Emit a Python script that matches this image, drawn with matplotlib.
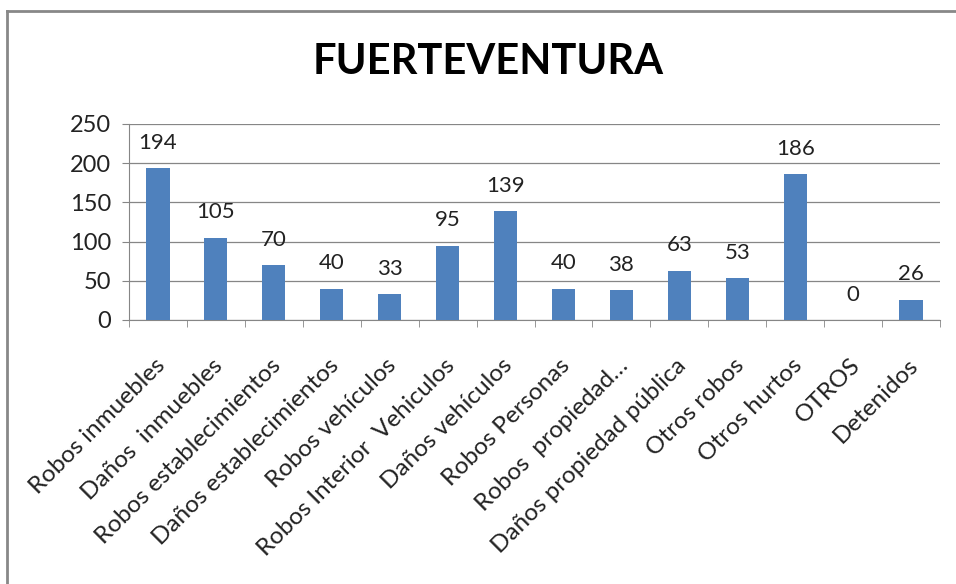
import numpy as np
import matplotlib.pyplot as plt
from matplotlib.lines import Line2D
from matplotlib.transforms import ScaledTranslation

categories = ['Robos inmuebles', 'Daños  inmuebles', 'Robos establecimientos',
              'Daños establecimientos', 'Robos vehículos', 'Robos Interior  Vehiculos',
              'Daños vehículos', 'Robos Personas', 'Robos  propiedad…',
              'Daños propiedad pública', 'Otros robos', 'Otros hurtos', 'OTROS', 'Detenidos']
values = [194, 105, 70, 40, 33, 95, 139, 40, 38, 63, 53, 186, 0, 26]
yticks = [0, 50, 100, 150, 200, 250]

plt.rcParams['font.family'] = ['Lato', 'DejaVu Sans']

fig = plt.figure(figsize=(9.56, 5.84), dpi=100)
W, H = 956, 584
ax = fig.add_axes([129 / W, 1 - 320 / H, (940 - 129) / W, (320 - 124) / H])

x = np.arange(len(categories))
bars = ax.bar(x, values, width=0.4, color='#4F81BD', zorder=3)

for xi, v in zip(x, values):
    ax.annotate(str(v), (xi, v), xytext=(0, 11), textcoords='offset points',
                ha='center', va='bottom', fontsize=16, color='#222222')

ax.set_xlim(-0.5, len(categories) - 0.5)
ax.set_ylim(0, 250)
ax.set_yticks(yticks)
ax.tick_params(axis='y', labelsize=17, length=5, color='#868686', pad=8, labelcolor='#222222')
ax.yaxis.grid(True, color='#868686', linewidth=0.9, zorder=0)

ax.set_xticks(x)
ax.set_xticklabels(categories, rotation=45, ha='right', rotation_mode='anchor',
                   fontsize=17.5, color='#222222')
ax.set_xticks(np.arange(len(categories) + 1) - 0.5, minor=True)
ax.tick_params(axis='x', which='major', length=0, pad=25)
ax.tick_params(axis='x', which='minor', length=5, color='#868686')
offset = ScaledTranslation(-4 / 100, 0, fig.dpi_scale_trans)
for lab in ax.get_xticklabels():
    lab.set_transform(lab.get_transform() + offset)

for s in ['top', 'right']:
    ax.spines[s].set_visible(False)
for s in ['left', 'bottom']:
    ax.spines[s].set_color('#868686')

fig.text(488 / W, 1 - 62 / H, 'FUERTEVENTURA', ha='center', va='center',
         fontsize=30, fontweight='bold', color='black')

# chart frame (left and top edges visible)
fig.add_artist(Line2D([7 / W, 7 / W], [0, 1 - 11 / H], transform=fig.transFigure,
                      color='#888888', linewidth=2))
fig.add_artist(Line2D([7 / W, 1], [1 - 11 / H, 1 - 11 / H], transform=fig.transFigure,
                      color='#888888', linewidth=2))

fig.savefig('out.png', dpi=100)
